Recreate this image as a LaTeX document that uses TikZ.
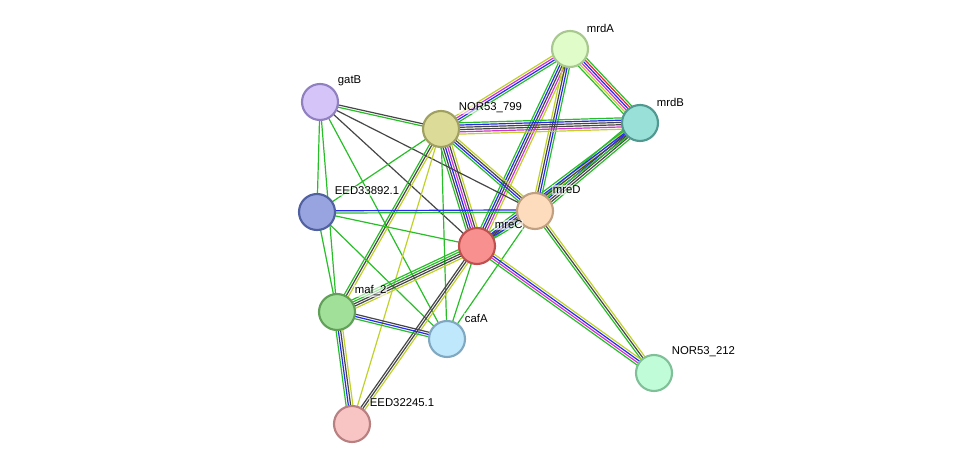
\documentclass[tikz,border=0pt]{standalone}
\usepackage{fontspec}
\setmainfont{Liberation Sans}
\usetikzlibrary{calc,backgrounds}
\definecolor{eg}{RGB}{40,190,40}
\definecolor{ed}{RGB}{70,70,70}
\definecolor{eb}{RGB}{40,40,240}
\definecolor{em}{RGB}{210,50,210}
\definecolor{ey}{RGB}{190,210,40}
\definecolor{er}{RGB}{230,40,40}
\newcommand{\medge}[3]{%
  \foreach \c [count=\i] in {#3} {\xdef\nn{\i}}%
  \foreach \c [count=\i] in {#3} {%
    \pgfmathsetmacro{\o}{(\i-(\nn+1)/2)*1.7}%
    \draw[\c,line width=0.9pt] ($(#1)!\o pt!90:(#2)$) -- ($(#2)!\o pt!-90:(#1)$);}}
\tikzset{prot/.style={circle,line width=1.6pt,minimum size=27pt,inner sep=0pt},
 lab/.style={anchor=west,font=\fontsize{8.5pt}{9pt}\selectfont,inner sep=0.5pt,fill=white,fill opacity=0.6,text opacity=1}}
\begin{document}
\begin{tikzpicture}[x=0.75pt,y=-0.75pt]
\useasboundingbox (0,0) rectangle (975,470);
\node[prot,fill={rgb,255:red,224;green,252;blue,200},draw={rgb,255:red,168;green,200;blue,144}] (mrdA) at (570,49) {};
\node[prot,fill={rgb,255:red,152;green,224;blue,216},draw={rgb,255:red,80;green,152;blue,144}] (mrdB) at (640,123) {};
\node[prot,fill={rgb,255:red,212;green,196;blue,248},draw={rgb,255:red,144;green,128;blue,192}] (gatB) at (320,102) {};
\node[prot,fill={rgb,255:red,220;green,220;blue,152},draw={rgb,255:red,160;green,160;blue,96}] (n799) at (441,129) {};
\node[prot,fill={rgb,255:red,152;green,164;blue,224},draw={rgb,255:red,80;green,96;blue,160}] (e892) at (317,212) {};
\node[prot,fill={rgb,255:red,252;green,220;blue,188},draw={rgb,255:red,192;green,160;blue,128}] (mreD) at (535,211) {};
\node[prot,fill={rgb,255:red,248;green,144;blue,144},draw={rgb,255:red,192;green,80;blue,80}] (mreC) at (477,246) {};
\node[prot,fill={rgb,255:red,160;green,224;blue,152},draw={rgb,255:red,96;green,160;blue,88}] (maf) at (337,312) {};
\node[prot,fill={rgb,255:red,192;green,232;blue,252},draw={rgb,255:red,128;green,168;blue,192}] (cafA) at (447,339) {};
\node[prot,fill={rgb,255:red,192;green,252;blue,216},draw={rgb,255:red,128;green,192;blue,152}] (n212) at (654,373) {};
\node[prot,fill={rgb,255:red,248;green,196;blue,196},draw={rgb,255:red,184;green,128;blue,128}] (e245) at (352,424) {};
\begin{scope}[on background layer]
\medge{mrdA}{mrdB}{eg,ey,em,eb,er,eg}
\medge{mrdA}{n799}{ey,em,eb,eg}
\medge{mrdA}{mreC}{eg,eb,ed,em,ey}
\medge{mrdA}{mreD}{ey,ed,eb,eg}
\medge{n799}{mrdB}{ey,em,ed,ed,eb,eg}
\medge{mrdB}{mreD}{eg,ey,eb,ed,ed,eg}
\medge{mrdB}{mreC}{eg,eb,ed,eg}
\medge{n799}{mreC}{eg,ed,eb,em,ed,ey}
\medge{n799}{mreD}{eg,eb,ed,ey}
\medge{gatB}{n799}{eg,ed}
\medge{gatB}{mreD}{ed}
\medge{gatB}{mreC}{ed}
\medge{gatB}{e892}{eg}
\medge{gatB}{maf}{eg}
\medge{gatB}{cafA}{eg}
\medge{n799}{e892}{eg}
\medge{n799}{maf}{eg,ed,ey}
\medge{n799}{cafA}{eg}
\medge{n799}{e245}{ey}
\medge{e892}{mreD}{eg,eb}
\medge{e892}{mreC}{eg}
\medge{e892}{maf}{eg}
\medge{e892}{cafA}{eg}
\medge{mreD}{mreC}{ed,eb,eg}
\medge{mreD}{n212}{eg,ed,ey}
\medge{mreD}{cafA}{eg}
\medge{mreC}{maf}{eg,eg,ed,ed,ey}
\medge{mreC}{cafA}{eg}
\medge{mreC}{e245}{ed,ed,ey}
\medge{mreC}{n212}{eg,em,eb,ey}
\medge{maf}{cafA}{eg,eb,ed}
\medge{maf}{e245}{eg,eb,ed,ey}
\end{scope}
\node[lab] (lmrdA) at (586,28) {mrdA};
\node[lab] (lmrdB) at (656,102) {mrdB};
\node[lab] (lgatB) at (337,81) {gatB};
\node[lab] (l799) at (458,108) {NOR53\_799};
\node[lab] (l892) at (334,191) {EED33892.1};
\node[lab] (lmreD) at (552,190) {mreD};
\node[lab] (lmreC) at (494,225) {mreC};
\node[lab] (lmaf) at (354,291) {maf\_2};
\node[lab] (lcafA) at (464,318) {cafA};
\node[lab] (l212) at (671,352) {NOR53\_212};
\node[lab] (l245) at (369,403) {EED32245.1};
\end{tikzpicture}
\end{document}
